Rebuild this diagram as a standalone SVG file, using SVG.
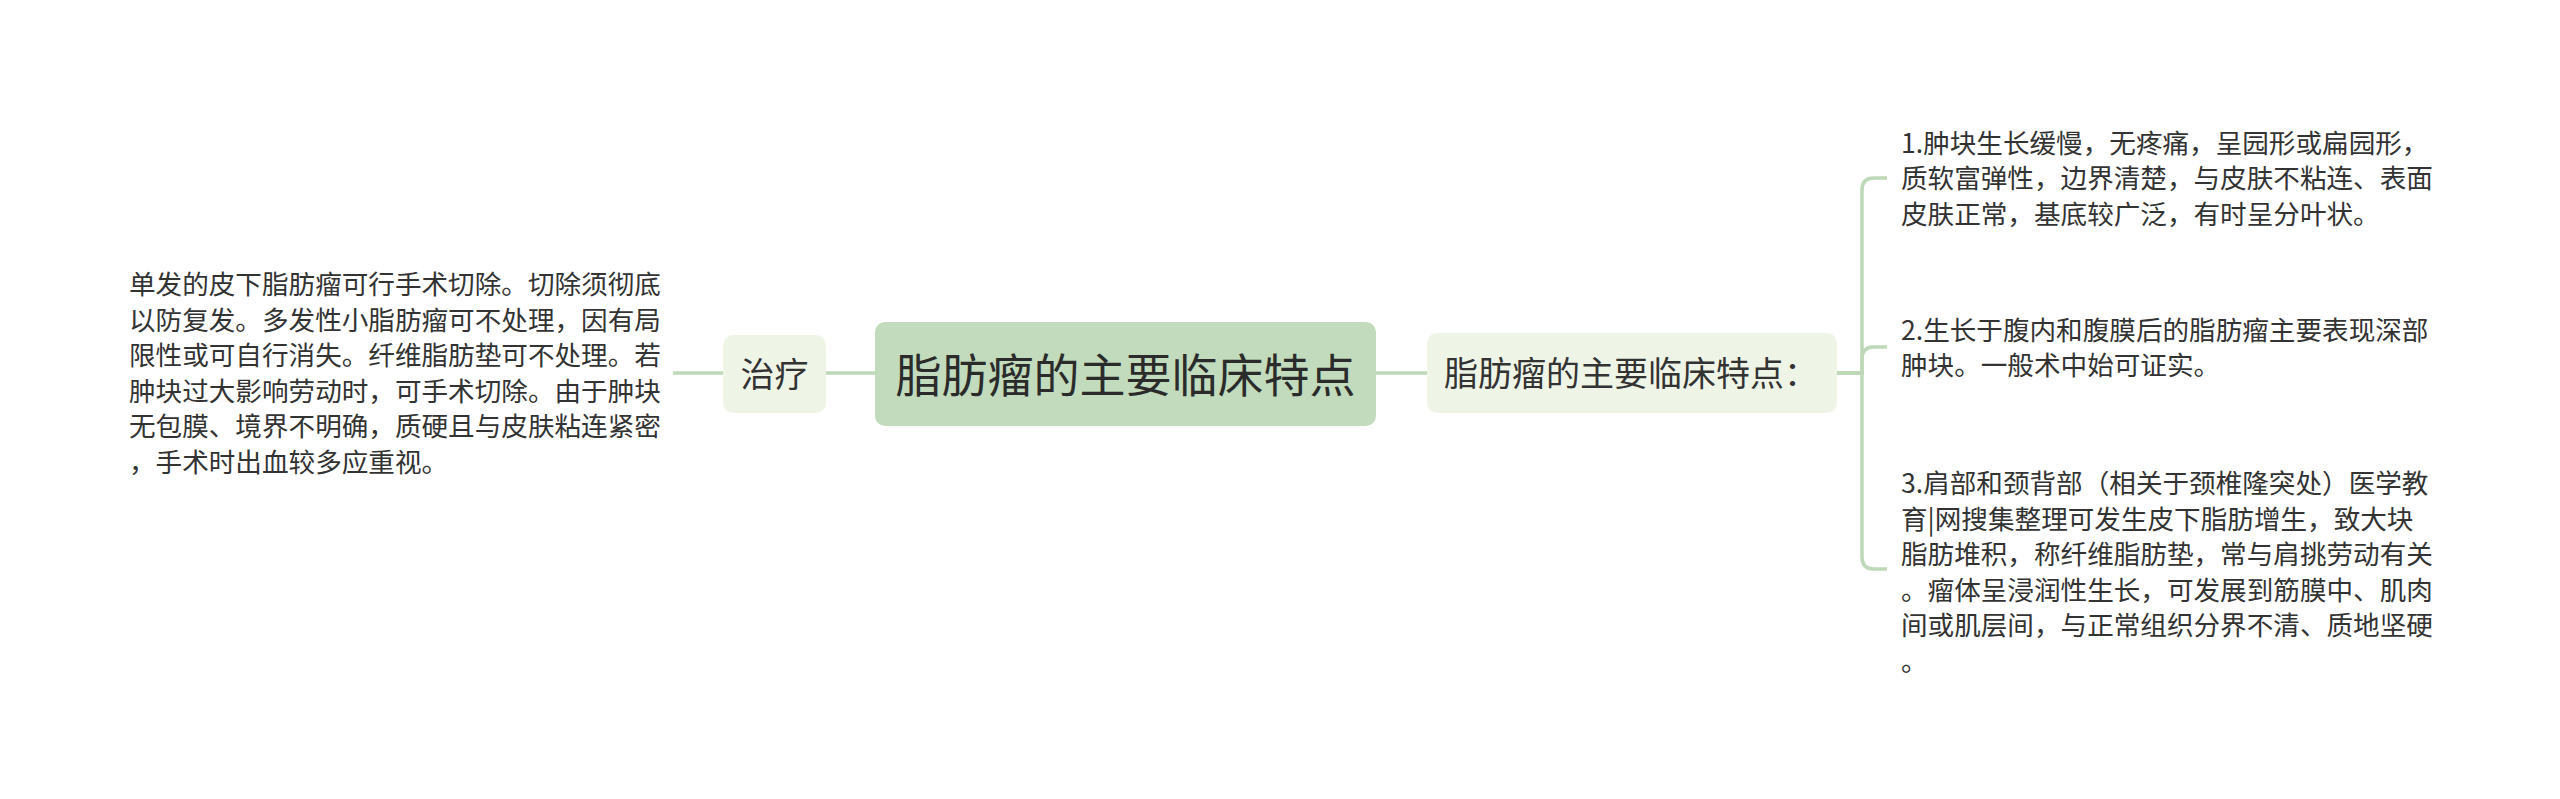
<svg xmlns="http://www.w3.org/2000/svg" width="2560" height="799" viewBox="0 0 2560 799">
<style>
.t{font-family:"Noto Sans CJK SC","Noto Sans",sans-serif;fill:#333333}
.leaf{font-size:26.6px}
.sub{font-size:34px}
.root{font-size:46px;fill:#2b2b2b}
.c{fill:none;stroke:#bdd9b8;stroke-width:3.5}
</style>
<rect width="2560" height="799" fill="#ffffff"/>
<g id="connectors">
<path class="c" d="M673 373 H723"/>
<path class="c" d="M826 373 H875"/>
<path class="c" d="M1376 373 H1427"/>
<path class="c" d="M1837 373 H1862 V190 Q1862 178 1874 178 H1887"/>
<path class="c" d="M1837 373 H1862 V359 Q1862 347 1874 347 H1887"/>
<path class="c" d="M1837 373 H1862 V557 Q1862 569 1874 569 H1887"/>
</g>
<g id="root">
<rect x="875" y="322" width="501" height="104" rx="10" fill="#c1dbbc"/>
<text class="t root" x="1125.5" y="391.5" text-anchor="middle">脂肪瘤的主要临床特点</text>
</g>
<g id="treatment">
<rect x="723" y="335" width="103" height="78" rx="10" fill="#eff5e6"/>
<text class="t sub" x="774.5" y="387" text-anchor="middle">治疗</text>
</g>
<g id="treatment-detail">
<text class="t leaf">
<tspan x="129" y="294">单发的皮下脂肪瘤可行手术切除。切除须彻底</tspan>
<tspan x="129" y="329.5">以防复发。多发性小脂肪瘤可不处理，因有局</tspan>
<tspan x="129" y="365">限性或可自行消失。纤维脂肪垫可不处理。若</tspan>
<tspan x="129" y="400.5">肿块过大影响劳动时，可手术切除。由于肿块</tspan>
<tspan x="129" y="436">无包膜、境界不明确，质硬且与皮肤粘连紧密</tspan>
<tspan x="129" y="471.5">，手术时出血较多应重视。</tspan>
</text>
</g>
<g id="features">
<rect x="1427" y="333" width="410" height="80" rx="10" fill="#eff5e6"/>
<text class="t sub" x="1444" y="386">脂肪瘤的主要临床特点：</text>
</g>
<g id="feature-1">
<text class="t leaf">
<tspan x="1901" y="152.5">1.肿块生长缓慢，无疼痛，呈园形或扁园形，</tspan>
<tspan x="1901" y="188">质软富弹性，边界清楚，与皮肤不粘连、表面</tspan>
<tspan x="1901" y="223.5">皮肤正常，基底较广泛，有时呈分叶状。</tspan>
</text>
</g>
<g id="feature-2">
<text class="t leaf">
<tspan x="1901" y="339.5">2.生长于腹内和腹膜后的脂肪瘤主要表现深部</tspan>
<tspan x="1901" y="375">肿块。一般术中始可证实。</tspan>
</text>
</g>
<g id="feature-3">
<text class="t leaf">
<tspan x="1901" y="493">3.肩部和颈背部（相关于颈椎隆突处）医学教</tspan>
<tspan x="1901" y="528.5">育|网搜集整理可发生皮下脂肪增生，致大块</tspan>
<tspan x="1901" y="564">脂肪堆积，称纤维脂肪垫，常与肩挑劳动有关</tspan>
<tspan x="1901" y="599.5">。瘤体呈浸润性生长，可发展到筋膜中、肌肉</tspan>
<tspan x="1901" y="635">间或肌层间，与正常组织分界不清、质地坚硬</tspan>
<tspan x="1901" y="670.5">。</tspan>
</text>
</g>
</svg>
